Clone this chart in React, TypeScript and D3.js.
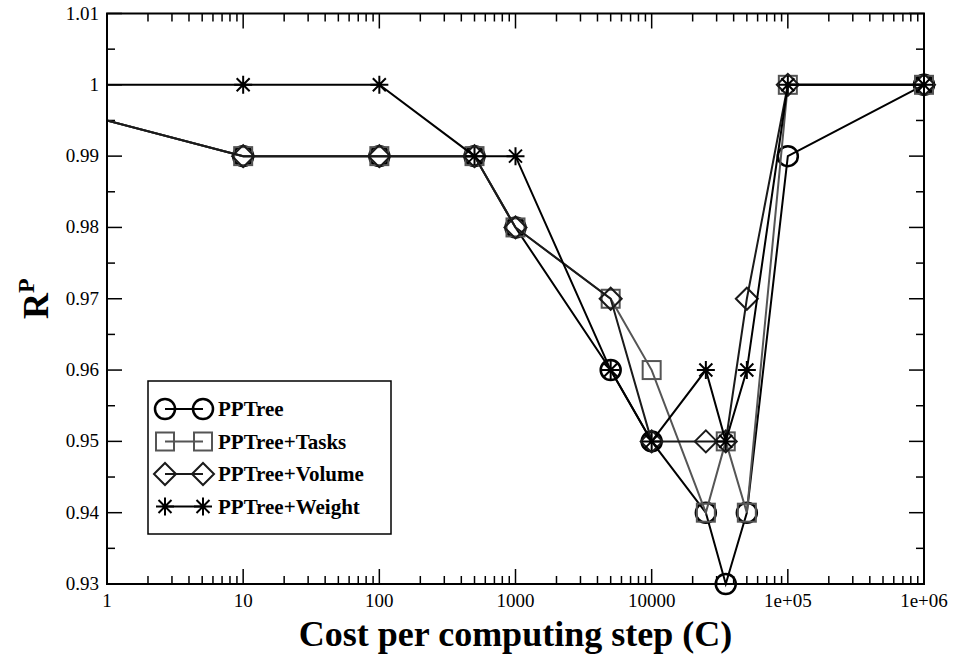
import React from 'react';
import * as d3 from 'd3';

// cost per computing step (first point sits off-axis at 0.1 and gets clipped)
const costs = [0.1, 10, 100, 500, 1000, 5000, 10000, 25000, 35000, 50000, 1e5, 1e6];

const ppTree = [1, 0.99, 0.99, 0.99, 0.98, 0.96, 0.95, 0.94, 0.93, 0.94, 0.99, 1];
const ppTreeTasks = [1, 0.99, 0.99, 0.99, 0.98, 0.97, 0.96, 0.94, 0.95, 0.94, 1, 1];
const ppTreeVolume = [1, 0.99, 0.99, 0.99, 0.98, 0.97, 0.95, 0.95, 0.95, 0.97, 1, 1];
const ppTreeWeight = [1, 1, 1, 0.99, 0.99, 0.96, 0.95, 0.96, 0.95, 0.96, 1, 1];

const xTicks = [1, 10, 100, 1000, 10000, 1e5, 1e6];
const xTickLabels = ['1', '10', '100', '1000', '10000', '1e+05', '1e+06'];
const yTicks = [0.93, 0.94, 0.95, 0.96, 0.97, 0.98, 0.99, 1, 1.01];
const yTickLabels = ['0.93', '0.94', '0.95', '0.96', '0.97', '0.98', '0.99', '1', '1.01'];

const seriesNames = ['PPTree', 'PPTree+Tasks', 'PPTree+Volume', 'PPTree+Weight'];
const seriesValues = [ppTree, ppTreeTasks, ppTreeVolume, ppTreeWeight];
const seriesColors = ['#000000', '#555555', '#1a1a1a', '#000000'];
const seriesSymbols = ['circle', 'square', 'diamond', 'star'];

const W = 956;
const H = 654;
const left = 107, right = 924, top = 13.5, bottom = 584;
const FONT = "'Liberation Serif', Tinos, 'Noto Serif', 'DejaVu Serif', 'Times New Roman', Times, serif";

const x = d3.scaleLog().domain([1, 1e6]).range([left, right]);
const y = d3.scaleLinear().domain([0.93, 1.01]).range([bottom, top]);

function marker(kind: string, cx: number, cy: number, color: string, key: string) {
  const sw = 2;
  if (kind === 'circle') {
    return <circle key={key} cx={cx} cy={cy} r={10} fill="none" stroke={color} strokeWidth={2.5} />;
  }
  if (kind === 'square') {
    return <rect key={key} x={cx - 9} y={cy - 9} width={18} height={18} fill="none" stroke={color} strokeWidth={sw} />;
  }
  if (kind === 'diamond') {
    const r = 11;
    return (
      <path key={key} d={`M${cx - r},${cy}L${cx},${cy - r}L${cx + r},${cy}L${cx},${cy + r}Z`}
        fill="none" stroke={color} strokeWidth={sw} />
    );
  }
  const r = 9, d = 6.5;
  return (
    <path key={key}
      d={`M${cx - r},${cy}L${cx + r},${cy}M${cx},${cy - r}L${cx},${cy + r}M${cx - d},${cy - d}L${cx + d},${cy + d}M${cx - d},${cy + d}L${cx + d},${cy - d}`}
      fill="none" stroke={color} strokeWidth={sw} />
  );
}

export default function App() {
  const line = d3.line<number>()
    .x((_, i) => x(costs[i]))
    .y(v => y(v));

  // log minor ticks
  const minorX: number[] = [];
  for (let e = 0; e < 6; e++) {
    for (let k = 2; k <= 9; k++) minorX.push(k * Math.pow(10, e));
  }
  const minorY = d3.range(0, 8).map(i => 0.935 + i * 0.01);

  const legX = 148, legY = 381, legW = 243, legH = 153;

  return (
    <svg width={W} height={H} style={{ position: 'absolute', left: 0, top: 0, background: '#fff', fontFamily: FONT }}>
      <defs>
        <clipPath id="plotClip">
          <rect x={left} y={0} width={right - left + 20} height={bottom + 20} />
        </clipPath>
      </defs>
      <rect x={0} y={0} width={W} height={H} fill="#fff" />

      {/* ticks */}
      <g stroke="#000" strokeWidth={1.5}>
        {xTicks.map(t => (
          <g key={'xt' + t}>
            <line x1={x(t)} x2={x(t)} y1={bottom} y2={bottom - 15} />
            <line x1={x(t)} x2={x(t)} y1={top} y2={top + 15} />
          </g>
        ))}
        {minorX.map(t => (
          <g key={'xm' + t}>
            <line x1={x(t)} x2={x(t)} y1={bottom} y2={bottom - 8} />
            <line x1={x(t)} x2={x(t)} y1={top} y2={top + 8} />
          </g>
        ))}
        {yTicks.map(t => (
          <g key={'yt' + t}>
            <line x1={left} x2={left + 15} y1={y(t)} y2={y(t)} />
            <line x1={right} x2={right - 15} y1={y(t)} y2={y(t)} />
          </g>
        ))}
        {minorY.map(t => (
          <g key={'ym' + t}>
            <line x1={left} x2={left + 8} y1={y(t)} y2={y(t)} />
            <line x1={right} x2={right - 8} y1={y(t)} y2={y(t)} />
          </g>
        ))}
      </g>

      {/* series */}
      <g clipPath="url(#plotClip)">
        {seriesValues.map((vals, si) => (
          <g key={'s' + si}>
            <path d={line(vals) || ''} fill="none" stroke={seriesColors[si]} strokeWidth={2} />
            {vals.map((v, i) => marker(seriesSymbols[si], x(costs[i]), y(v), seriesColors[si], `m${si}-${i}`))}
          </g>
        ))}
      </g>

      <rect x={left} y={top} width={right - left} height={bottom - top} fill="none" stroke="#000" strokeWidth={2} />

      {/* tick labels */}
      <g style={{ fontFamily: FONT, fontSize: 19 }} fill="#000">
        {xTicks.map((t, i) => (
          <text key={'xl' + t} x={x(t)} y={bottom + 23} textAnchor="middle">{xTickLabels[i]}</text>
        ))}
        {yTicks.map((t, i) => (
          <text key={'yl' + t} x={left - 8} y={y(t) + 6} textAnchor="end">{yTickLabels[i]}</text>
        ))}
      </g>

      {/* axis titles */}
      <text x={(left + right) / 2} y={646} textAnchor="middle" style={{ fontFamily: FONT, fontWeight: 'bold', fontSize: 36 }}>
        Cost per computing step (C)
      </text>
      <g transform={`translate(48,${(top + bottom) / 2}) rotate(-90)`}>
        <text x={0} y={0} textAnchor="middle" style={{ fontFamily: FONT, fontWeight: 'bold', fontSize: 36 }}>
          R<tspan fontSize={24} dy={-14}>P</tspan>
        </text>
      </g>

      {/* legend */}
      <rect x={legX} y={legY} width={legW} height={legH} fill="#fff" stroke="#000" strokeWidth={1.5} />
      {seriesNames.map((name, i) => {
        const ly = 409 + i * 32.5;
        return (
          <g key={'leg' + i}>
            <line x1={165} x2={203} y1={ly} y2={ly} stroke={seriesColors[i]} strokeWidth={2} />
            {marker(seriesSymbols[i], 165, ly, seriesColors[i], 'la' + i)}
            {marker(seriesSymbols[i], 203, ly, seriesColors[i], 'lb' + i)}
            <text x={218} y={ly + 7} style={{ fontFamily: FONT, fontWeight: 'bold', fontSize: 21 }}>{name}</text>
          </g>
        );
      })}
    </svg>
  );
}
